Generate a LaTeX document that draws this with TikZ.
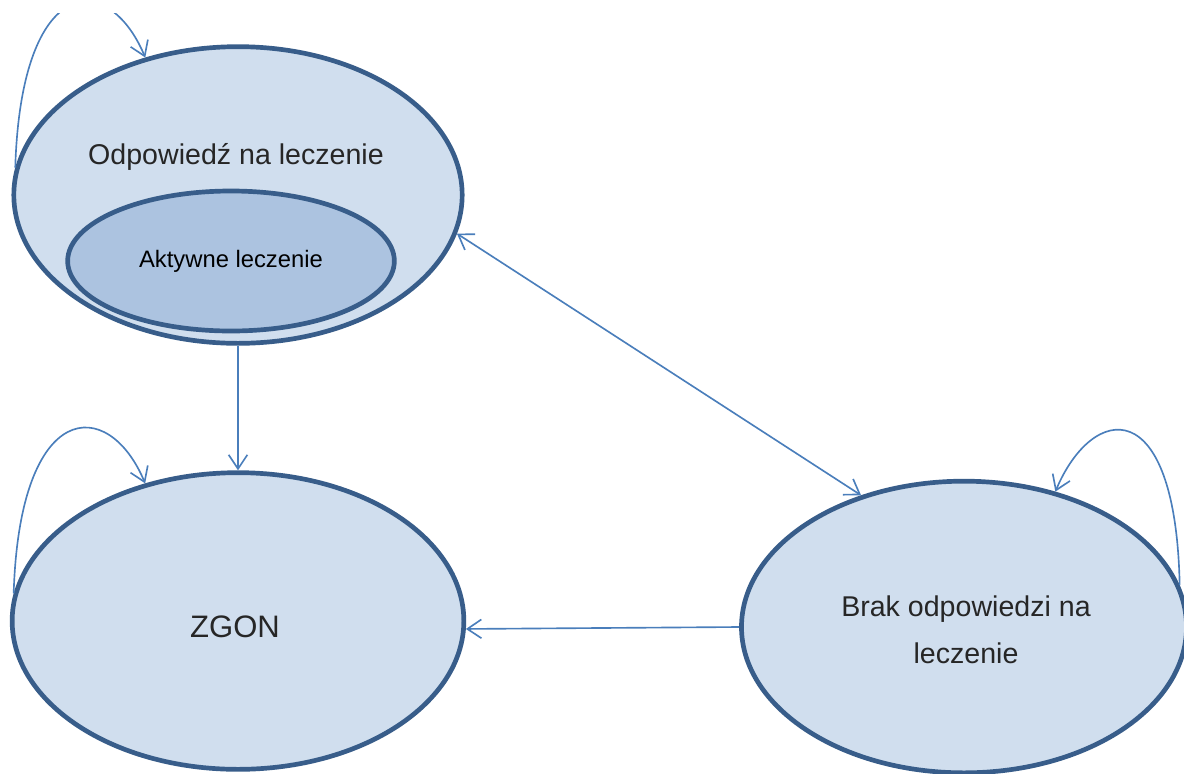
\documentclass[tikz,border=0pt]{standalone}
\usepackage{fontspec}
\setmainfont{Liberation Sans}
\usetikzlibrary{shapes.geometric, positioning, arrows.meta}
\definecolor{rim}{RGB}{56,93,138}
\definecolor{pale}{RGB}{208,222,238}
\definecolor{midblue}{RGB}{172,195,224}
\definecolor{link}{RGB}{74,126,187}

\begin{document}
\begin{tikzpicture}[x=0.03cm, y=-0.03cm,
  every node/.style={inner sep=0pt},
  state/.style={ellipse, draw=rim, fill=pale, line width=4pt,
                minimum width=13.45cm, minimum height=8.9cm},
  substate/.style={ellipse, draw=rim, fill=midblue, line width=4pt,
                   minimum width=9.8cm, minimum height=4.2cm,
                   font=\fontsize{20.3}{24}\selectfont, text=black},
  lbl/.style={font=\fontsize{24.4}{40}\selectfont, color=black!85, align=center},
  arrow/.style={-{Straight Barb[length=12pt, width=16pt]}, link, line width=1.4pt},
  biarrow/.style={{Straight Barb[length=12pt, width=16pt]}-{Straight Barb[length=12pt, width=16pt]},
                  link, line width=1.4pt}]
\useasboundingbox (0,0) rectangle (1184,773);
\clip (0,13) rectangle (1184,773);
% states
\node[state] (odp) at (238,195) {};
\node[lbl] (odptxt) at (236,157) {Odpowiedź na leczenie};
\node[substate] (akt) at (231,261) {Aktywne leczenie};
\node[state, minimum width=13.55cm] (zgon) at (238,621) {};
\node[lbl, font=\fontsize{26.5}{32}\selectfont] (zgontxt) at (235,627) {ZGON};
\node[state, minimum width=13.35cm, minimum height=8.75cm] (brak) at (964,627) {};
\node[lbl] (braktxt) at (966,630) {Brak odpowiedzi na\\leczenie};
% transitions
\draw[arrow] (odp.south) -- (zgon.north);
\draw[biarrow] (odp.-10.6) -- (brak.128.6);
\draw[arrow] (brak.west) -- (zgon.-2);
% self loops
\draw[arrow] (odp.173.5) .. controls +(6,-195) and +(-37,-88) .. (odp.124.6);
\draw[arrow] (zgon.173.5) .. controls +(6,-195) and +(-37,-88) .. (zgon.124.6);
\draw[arrow] (brak.11) .. controls +(-4,-195) and +(37,-88) .. (brak.56);
\end{tikzpicture}
\end{document}
